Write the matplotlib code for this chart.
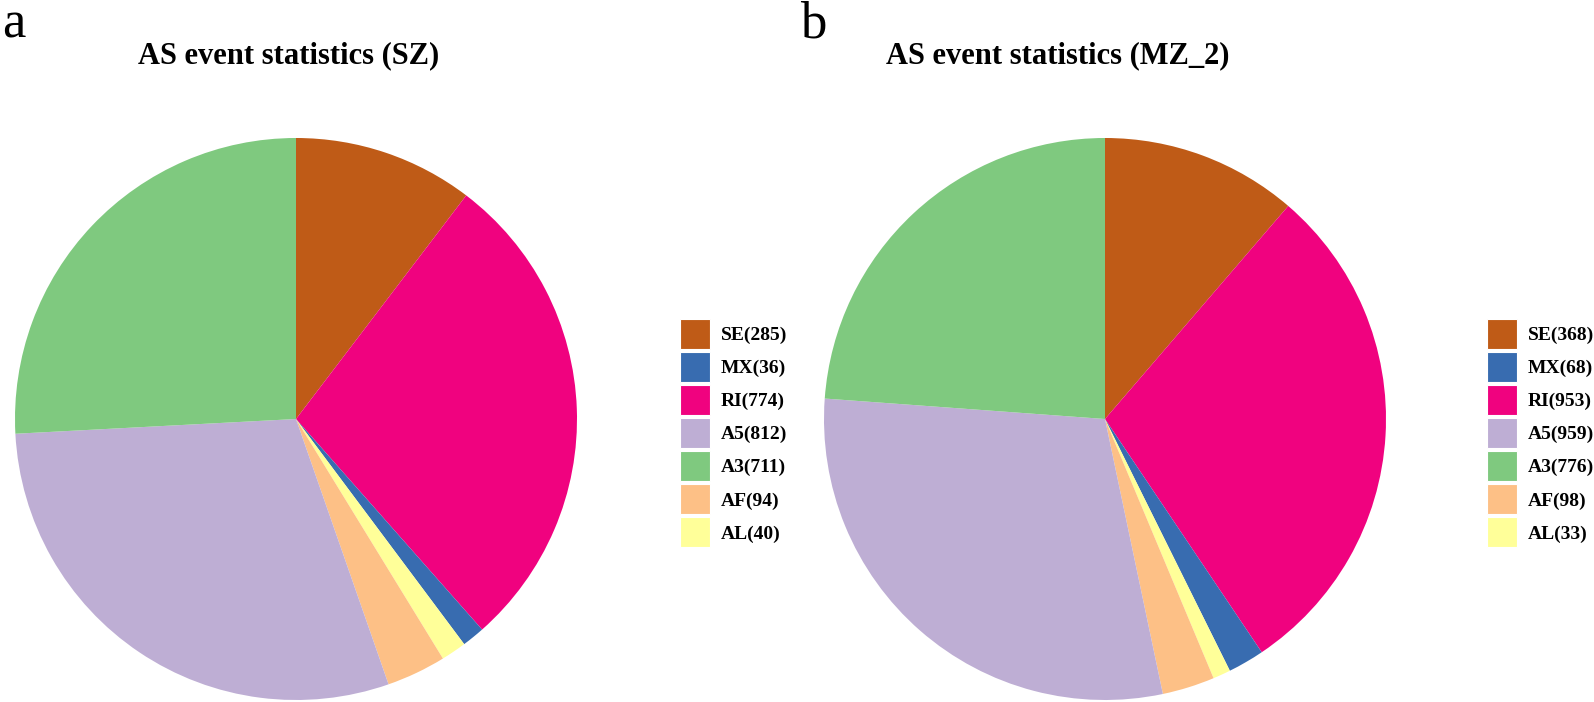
import matplotlib.pyplot as plt
from matplotlib.patches import Patch

# event types as listed in the legend
events = ['SE', 'MX', 'RI', 'A5', 'A3', 'AF', 'AL']
sz_counts = [285, 36, 774, 812, 711, 94, 40]
mz2_counts = [368, 68, 953, 959, 776, 98, 33]

# order of slices clockwise from 12 o'clock
pie_order = ['SE', 'RI', 'MX', 'AL', 'AF', 'A5', 'A3']

colors = {'SE': '#bf5b17', 'MX': '#386cb0', 'RI': '#f0027f', 'A5': '#beaed4',
          'A3': '#7fc97f', 'AF': '#fdc086', 'AL': '#ffff99'}

W, H = 1594, 702
fig = plt.figure(figsize=(W / 100, H / 100), dpi=100)
plt.rcParams['font.family'] = ['Liberation Serif', 'DejaVu Serif']

panels = [
    ('a', 'AS event statistics (SZ)', sz_counts, 296, 2, 289, 680),
    ('b', 'AS event statistics (MZ_2)', mz2_counts, 1105, 800, 1058, 1487),
]
R = 281
cy = 419

for letter, title, counts, cx, lx, tx, legx in panels:
    ax = fig.add_axes([(cx - R) / W, (H - cy - R) / H, 2 * R / W, 2 * R / H])
    vals = dict(zip(events, counts))
    ax.pie([vals[e] for e in pie_order], colors=[colors[e] for e in pie_order],
           startangle=90, counterclock=False, radius=1,
           wedgeprops=dict(linewidth=0))
    ax.set_xlim(-1, 1)
    ax.set_ylim(-1, 1)
    ax.set_aspect('equal')

    fig.text(lx / W, 1 - 37 / H, letter, fontsize=38, ha='left', va='baseline')
    fig.text(tx / W, 1 - 63 / H, title, fontsize=22, fontweight='bold',
             ha='center', va='baseline')

    handles = [Patch(facecolor=colors[e], edgecolor='white', linewidth=0.8)
               for e in events]
    labels = [f'{e}({c})' for e, c in zip(events, counts)]
    fig.legend(handles, labels, loc='upper left',
               bbox_to_anchor=(legx / W, 1 - 319 / H),
               frameon=False, prop={'weight': 'bold', 'size': 14},
               handlelength=1.54, handleheight=2.0, handletextpad=0.55,
               labelspacing=0.155, borderpad=0, borderaxespad=0)

fig.savefig('out.png', dpi=100)
